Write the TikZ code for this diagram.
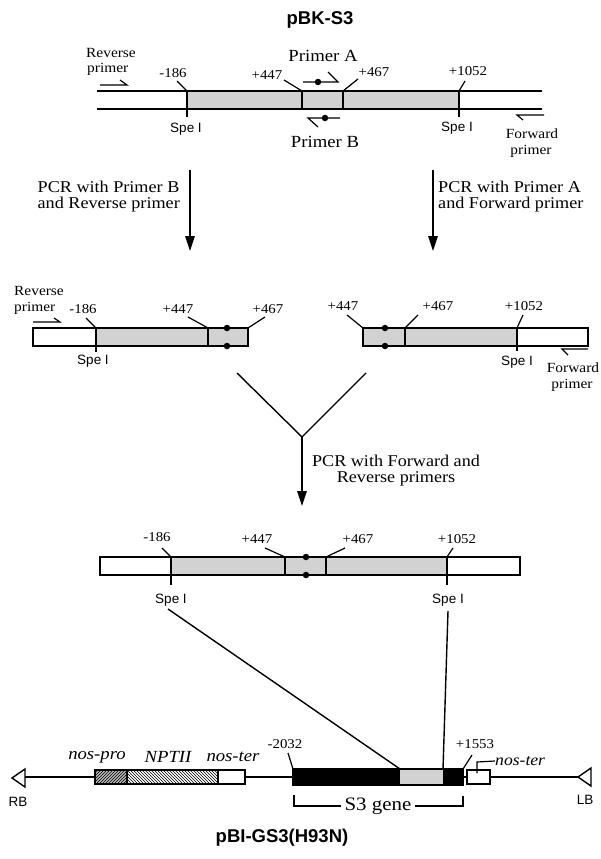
\documentclass[tikz,border=0pt]{standalone}
\usepackage{fontspec}
\setmainfont{Liberation Serif}[FakeStretch=1.1]
\setsansfont{Liberation Sans}
\usetikzlibrary{patterns,arrows.meta}
\begin{document}
\begin{tikzpicture}[x=1pt,y=-1pt,
 dna/.style={line width=1.4pt},
 lead/.style={line width=1.2pt},
 shaded/.style={fill=gray!35},
 num/.style={font=\fontsize{13.5}{13.5}\selectfont,inner sep=0pt},
 spe/.style={font=\sffamily\fontsize{13.5}{13.5}\selectfont,inner sep=0pt,anchor=base},
 lab/.style={font=\fontsize{14}{14}\selectfont,inner sep=0pt},
 pcr/.style={font=\fontsize{16.5}{16}\selectfont,inner sep=0pt},
 prim/.style={font=\fontsize{17}{17}\selectfont,inner sep=0pt},
 ital/.style={font=\itshape\fontsize{17}{17}\selectfont,inner sep=0pt},
 ttl/.style={font=\sffamily\bfseries\fontsize{18.5}{18.5}\selectfont,inner sep=0pt},
 dot/.style={circle,fill=black,inner sep=0pt,minimum size=6.5pt},
 bigarrow/.style={line width=1.4pt,-{Triangle[length=15pt,width=9.5pt]}}
]
\useasboundingbox (0,0) rectangle (600,859);

%================ TOP : pBK-S3 =================
\node[ttl] (title1) at (320,20) {pBK-S3};
\fill[shaded] (187,91) rectangle (459,109);
\coordinate (tL) at (97,91);   \coordinate (tR) at (542,91);
\coordinate (bL) at (97,109);  \coordinate (bR) at (542,109);
\draw[dna] (tL) -- (tR);
\draw[dna] (bL) -- (bR);
\draw[dna] (187,91) -- (187,117);
\draw[dna] (459,91) -- (459,117);
\draw[dna] (302,91) -- (302,109);
\draw[dna] (343,91) -- (343,109);
\node[num] (a186) at (173,73) {-186};
\node[num] (a447) at (267,75) {+447};
\node[num] (a467) at (374,72) {+467};
\node[num] (a1052) at (468,71) {+1052};
\draw[lead] (177,81) -- (187,91);
\draw[lead] (284,80) -- (302,91);
\draw[lead] (358,79) -- (343,91);
\draw[lead] (465,81) -- (459,91);
\node[spe] (spe1) at (186,132) {Spe I};
\node[spe] (spe2) at (457,131) {Spe I};
% primers
\node[prim] (pA) at (323,56) {Primer A};
\node[prim] (pB) at (325,142) {Primer B};
\draw[lead] (303,82) -- (338,82) -- (328,72);
\node[dot] (dA) at (318,82) {};
\draw[lead] (318,127) -- (308,118) -- (340,118);
\node[dot] (dB) at (325,118) {};
% reverse / forward primer
\node[lab,anchor=base west] (rv1) at (86,57) {Reverse};
\node[lab,anchor=base west] (rv2) at (87,73) {primer};
\draw[lead] (100,85) -- (127,85) -- (120,80);
\node[lab,anchor=base] (fw1) at (532,138) {Forward};
\node[lab,anchor=base] (fw2) at (531,154) {primer};
\draw[lead] (523,120) -- (517,115) -- (544,115);

%================ PCR arrows =================
\coordinate (arL1) at (190,170); \coordinate (arL2) at (190,251);
\coordinate (arR1) at (433,170); \coordinate (arR2) at (433,251);
\draw[bigarrow] (arL1) -- (arL2);
\draw[bigarrow] (arR1) -- (arR2);
\node[pcr,align=left,anchor=east] (pcrL) at (180,197) {PCR with Primer B\\and Reverse primer};
\node[pcr,align=left,anchor=west] (pcrR) at (438,197) {PCR with Primer A\\and Forward primer};

%================ MIDDLE fragments =================
% left fragment
\fill[shaded] (96,328) rectangle (248,346);
\draw[dna] (33,328) rectangle (248,346);
\draw[dna] (96,328) -- (96,352);
\draw[dna] (208,328) -- (208,346);
\node[dot] at (227,328) {};
\node[dot] at (227,346) {};
\node[num] (b186) at (83,309) {-186};
\node[num] (b447) at (178,309) {+447};
\node[num] (b467) at (268,309) {+467};
\draw[lead] (86,318) -- (96,328);
\draw[lead] (188,317) -- (208,328);
\draw[lead] (265,317) -- (248,328);
\node[spe] (spe3) at (93,364) {Spe I};
\node[lab,anchor=base west] (rv3) at (14,295) {Reverse};
\node[lab,anchor=base west] (rv4) at (14,311) {primer};
\draw[lead] (33,322) -- (60,322) -- (54,318);
% right fragment
\fill[shaded] (363,328) rectangle (517,346);
\draw[dna] (363,328) rectangle (588,346);
\draw[dna] (517,328) -- (517,351);
\draw[dna] (405,328) -- (405,346);
\node[dot] at (385,328) {};
\node[dot] at (385,346) {};
\node[num] (c447) at (343,306) {+447};
\node[num] (c467) at (438,306) {+467};
\node[num] (c1052) at (524,306) {+1052};
\draw[lead] (347,315) -- (363,328);
\draw[lead] (418,315) -- (405,328);
\draw[lead] (523,315) -- (517,328);
\node[spe] (spe4) at (517,365) {Spe I};
\node[lab,anchor=base] (fw3) at (573,372) {Forward};
\node[lab,anchor=base] (fw4) at (572,388) {primer};
\draw[lead] (568,355) -- (562,349) -- (588,349);

%================ merge =================
\coordinate (yL) at (237,373);
\coordinate (yR) at (366,373);
\coordinate (yC) at (302,437);
\coordinate (yE) at (302,506);
\draw[dna] (yL) -- (yC) -- (yR);
\draw[bigarrow] (yC) -- (yE);
\node[pcr,align=center] (pcrM) at (396,471) {PCR with Forward and\\Reverse primers};

%================ merged product =================
\fill[shaded] (171,557) rectangle (447,575);
\draw[dna] (100,557) rectangle (520,575);
\draw[dna] (171,557) -- (171,585);
\draw[dna] (447,557) -- (447,585);
\draw[dna] (285,557) -- (285,575);
\draw[dna] (326,557) -- (326,575);
\node[dot] at (306,557) {};
\node[dot] at (306,575) {};
\node[num] (d186) at (157,537) {-186};
\node[num] (d447) at (257,539) {+447};
\node[num] (d467) at (358,539) {+467};
\node[num] (d1052) at (457,539) {+1052};
\draw[lead] (162,548) -- (171,557);
\draw[lead] (265,548) -- (285,557);
\draw[lead] (345,548) -- (326,557);
\draw[lead] (453,548) -- (447,557);
\node[spe] (spe5) at (171,603) {Spe I};
\node[spe] (spe6) at (448,603) {Spe I};

%================ bottom : pBI-GS3(H93N) =================
\coordinate (s3l) at (400,769);
\coordinate (s3r) at (443,769);
\draw[dna] (168,609) -- (s3l);
\draw[dna] (448,611) -- (s3r);
% backbone line
\draw[lead] (25,777) -- (95,777);
\draw[lead] (245,777) -- (293,777);
\draw[lead] (463,777) -- (467,777);
\draw[lead] (490,777) -- (578,777);
% RB and LB
\draw[dna,fill=white] (12,778) -- (25,769) -- (25,787) -- cycle;
\draw[dna,fill=white] (578,777) -- (591,768) -- (591,786) -- cycle;
\node[font=\sffamily\fontsize{13.5}{13.5}\selectfont,inner sep=0pt] (RB) at (18,802) {RB};
\node[font=\sffamily\fontsize{13.5}{13.5}\selectfont,inner sep=0pt] (LB) at (585,800) {LB};
% boxes left
\fill[gray!55] (95,770) rectangle (127,784);
\fill[pattern=north east lines] (95,770) rectangle (127,784);
\fill[pattern=north west lines] (127,770) rectangle (218,784);
\draw[dna] (95,770) rectangle (245,784);
\draw[dna] (127,770) -- (127,784);
\draw[dna] (218,770) -- (218,784);
\node[ital] (npro) at (97,757) {nos-pro};
\node[ital] (nptii) at (168,757) {NPTII};
\node[ital] (nter1) at (233,757) {nos-ter};
% S3 gene
\fill[black] (293,769) rectangle (400,785);
\fill[shaded] (400,769) rectangle (443,785);
\fill[black] (443,769) rectangle (463,785);
\draw[dna] (293,769) rectangle (463,785);
\node[num] (e2032) at (285,744) {-2032};
\node[num] (e1553) at (475,744) {+1553};
\draw[lead] (288,753) -- (293,769);
\draw[lead] (472,755) -- (463,769);
% right nos-ter
\draw[dna,fill=white] (467,770) rectangle (490,784);
\node[ital,font=\itshape\fontsize{16}{16}\selectfont,anchor=west] (nter2) at (495,761) {nos-ter};
\draw[lead] (477,773) -- (477,762) -- (nter2.west);
% S3 bracket
\node[font=\fontsize{19}{19}\selectfont,inner sep=0pt] (s3) at (378,806) {S3 gene};
\draw[lead] (294,795) -- (294,806) -- ([xshift=-3pt]s3.west |- 294,806);
\draw[lead] ([xshift=3pt]s3.east |- 463,806) -- (463,806) -- (463,796);
\node[ttl] (title2) at (282,838) {pBI-GS3(H93N)};
\end{tikzpicture}
\end{document}
